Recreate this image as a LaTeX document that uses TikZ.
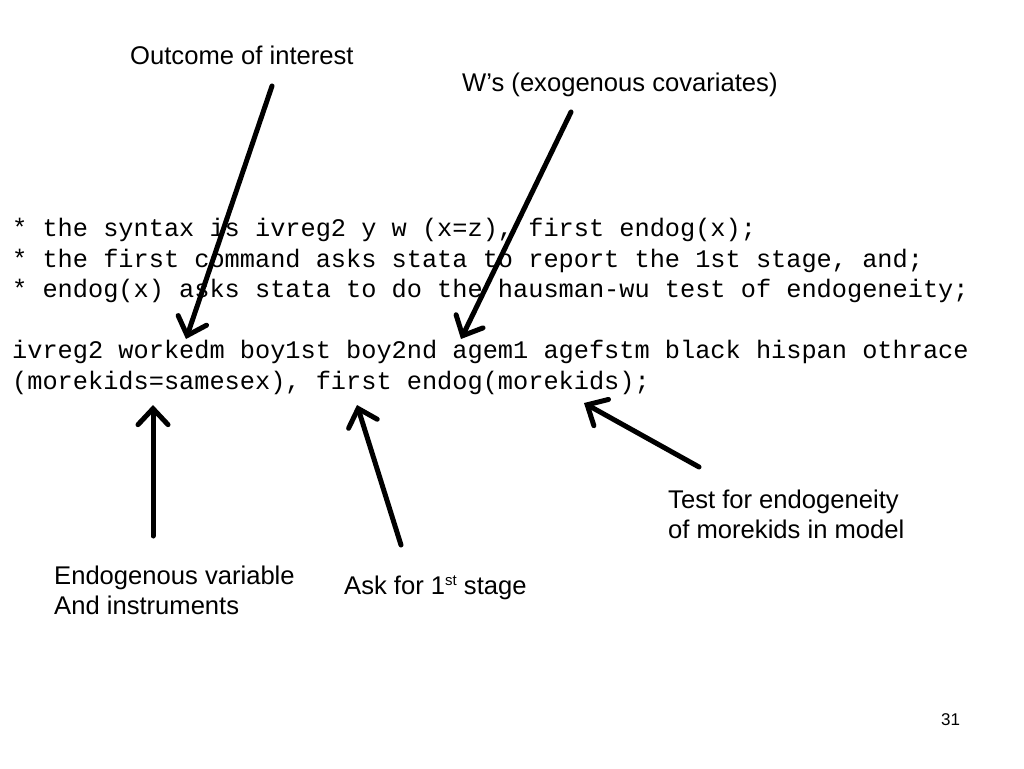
\documentclass[tikz,border=0pt]{standalone}
\usepackage{fontspec}
\setmainfont{Liberation Sans}
\newfontfamily\codefont{Liberation Mono}
\usetikzlibrary{arrows.meta}
\begin{document}
\begin{tikzpicture}[x=1pt,y=-1pt,
  lbl/.style={inner sep=0pt,anchor=base west,font=\fontsize{25.6}{30}\selectfont},
  code/.style={inner sep=0pt,anchor=base west,font=\codefont\fontsize{25.3}{30.5}\selectfont},
  bigarrow/.style={line width=5pt,line cap=round,-{Straight Barb[length=16pt,width=30pt,line cap=round]}}]
\useasboundingbox (0,0) rectangle (1024,768);
\fill[white] (0,0) rectangle (1024,768);
% labels
\node[lbl] (outcome) at (130,64) {Outcome of interest};
\node[lbl] (wcov) at (462,91) {W’s (exogenous covariates)};
\node[lbl,align=left,anchor=north west] (test) at (668,490) {Test for endogeneity\\of morekids in model};
\node[lbl,align=left,anchor=north west] (endo) at (54,566) {Endogenous variable\\And instruments};
\node[lbl] (first) at (344,594) {Ask for 1\raisebox{9pt}{\fontsize{15}{15}\selectfont st} stage};
\node[inner sep=0pt,anchor=base west,font=\fontsize{17}{20}\selectfont] (pnum) at (941,725) {31};
% code
\node[code] (c1) at (12,236) {* the syntax is ivreg2 y w (x=z), first endog(x);};
\node[code] (c2) at (12,267) {* the first command asks stata to report the 1st stage, and;};
\node[code] (c3) at (12,297) {* endog(x) asks stata to do the hausman-wu test of endogeneity;};
\node[code] (c4) at (12,358) {ivreg2 workedm boy1st boy2nd agem1 agefstm black hispan othrace};
\node[code] (c5) at (12,389) {(morekids=samesex), first endog(morekids);};
% arrow endpoints
\coordinate (a1s) at (272,86);  \coordinate (a1e) at (186,339);
\coordinate (a2s) at (571,112); \coordinate (a2e) at (461,339);
\coordinate (a3s) at (153,536); \coordinate (a3e) at (153,405);
\coordinate (a4s) at (401,545); \coordinate (a4e) at (357,405);
\coordinate (a5s) at (699,467); \coordinate (a5e) at (584,403);
\draw[bigarrow] (a1s) -- (a1e);
\draw[bigarrow] (a2s) -- (a2e);
\draw[bigarrow] (a3s) -- (a3e);
\draw[bigarrow] (a4s) -- (a4e);
\draw[bigarrow] (a5s) -- (a5e);
\end{tikzpicture}
\end{document}
